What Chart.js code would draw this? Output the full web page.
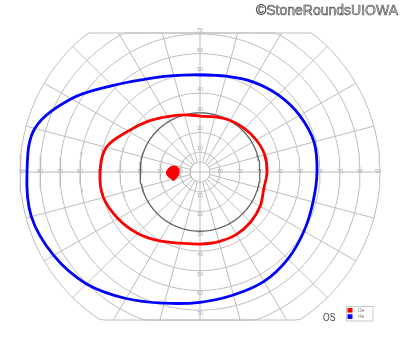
<!DOCTYPE html>
<html>
<head>
<meta charset="utf-8">
<script src="https://cdn.jsdelivr.net/npm/chart.js@4.4.1/dist/chart.umd.min.js"></script>
<style>
  html, body { margin: 0; padding: 0; background: #fff; }
  #wrap { position: relative; width: 400px; height: 352px; }
</style>
</head>
<body>
<div id="wrap"><canvas id="fieldChart"></canvas></div>
<script>
// Goldmann visual field, left eye. Angles in degrees, 0 = right, counter-clockwise
const meridians = [0, 15, 30, 45, 60, 75, 90, 105, 120, 135, 150, 165,
                   180, 195, 210, 225, 240, 255, 270, 285, 300, 315, 330, 345];

// isopter eccentricity (deg) on each meridian
const isopterI4e = [58.5, 59, 57.5, 55.3, 52.8, 50.3, 49.2, 50.6, 54.4, 62, 74.3, 85.5,
                    86.5, 87.3, 84.5, 80.2, 74, 68.8, 66, 64.5, 64, 62.2, 60, 58.5];
const isopterI2e = [33.5, 33.5, 32.5, 31.3, 30.2, 28.9, 28.4, 30, 32.5, 36.5, 41.5, 48.5,
                    50, 50, 47.3, 44, 40.3, 37.3, 36.5, 36.5, 36.5, 35.8, 34.7, 33];

// blind spot outline (deg)
const blindSpotX = [-16, -14.5, -12.5, -10.75, -10.5, -11, -12.25, -13.5, -14.5, -16.25, -16.75];
const blindSpotY = [1.5, 2.8, 3, 2, 0, -2, -3.5, -4.3, -3.3, -2, 0];

// grid
const ringValues = [5, 10, 20, 30, 40, 50, 60, 70, 80, 90];
const spokeAngles = [0, 15, 30, 45, 60, 75, 90, 105, 120, 135, 150, 165,
                     180, 195, 210, 225, 240, 255, 270, 285, 300, 315, 330, 345];
const horizontalLabels = [10, 20, 30, 40, 50, 60, 70, 80, 90];
const verticalLabels = [10, 20, 30, 40, 50, 60, 70];
const topEdge = 70.5;
const bottomEdge = -75;

function polarPoint(r, deg) {
    const a = deg * Math.PI / 180;
    return { x: r * Math.cos(a), y: r * Math.sin(a) };
}

// rings, flattened where the chart is cut off at top and bottom
const ringSets = ringValues.map(r => {
    const pts = [];
    for (let a = 0; a <= 360; a += 2) {
        const p = polarPoint(r, a);
        pts.push({ x: p.x, y: Math.max(bottomEdge, Math.min(topEdge, p.y)) });
    }
    const dark = r === 30;
    return {
        data: pts,
        borderColor: dark ? '#606060' : '#bdbdbd',
        borderWidth: dark ? 1.3 : 1,
        order: dark ? 9 : 10
    };
});

const spokeSets = spokeAngles.map(a => {
    const s = Math.sin(a * Math.PI / 180);
    let rEnd = ringValues[ringValues.length - 1];
    if (s > 1e-6) rEnd = Math.min(rEnd, topEdge / s);
    if (s < -1e-6) rEnd = Math.min(rEnd, bottomEdge / s);
    const rStart = a % 90 === 0 ? 0 : ringValues[0];
    return {
        data: [polarPoint(rStart, a), polarPoint(rEnd, a)],
        borderColor: '#bdbdbd',
        borderWidth: 1,
        order: 10
    };
});

// closed smooth loop: wrap one point at each end and hide those end segments
function isopterSet(label, values, color) {
    const pts = meridians.map((m, i) => polarPoint(values[i], m));
    const n = pts.length;
    const data = [pts[n - 1], ...pts, pts[0], pts[1]];
    const last = data.length - 1;
    return {
        label: label,
        data: data,
        borderColor: color,
        backgroundColor: color,
        borderWidth: 2.8,
        tension: 0.35,
        borderCapStyle: 'round',
        borderJoinStyle: 'round',
        order: 1,
        segment: {
            borderColor: ctx => (ctx.p0DataIndex === 0 || ctx.p1DataIndex === last) ? 'rgba(0,0,0,0)' : color
        }
    };
}

const blindSpotPts = blindSpotX.map((x, i) => ({ x: x, y: blindSpotY[i] }));
blindSpotPts.push(blindSpotPts[0]);

const isopters = [
    isopterSet('I2e', isopterI2e, '#ff0000'),
    isopterSet('I4e', isopterI4e, '#0000ff')
];

const datasets = [
    {
        label: 'blind spot',
        data: blindSpotPts,
        borderColor: '#ff0000',
        backgroundColor: '#ff0000',
        borderWidth: 1,
        tension: 0.4,
        fill: 'shape',
        order: 0
    },
    ...isopters,
    ...ringSets,
    ...spokeSets
];

const gridLabels = {
    id: 'gridLabels',
    beforeDatasetsDraw(chart) {
        const { ctx, scales: { x, y } } = chart;
        const cx = x.getPixelForValue(0);
        const cy = y.getPixelForValue(0);
        ctx.save();
        ctx.font = '5px "Liberation Sans"';
        ctx.fillStyle = '#999';
        ctx.textAlign = 'center';
        ctx.textBaseline = 'middle';
        horizontalLabels.forEach(v => {
            const inset = v === 90 ? 2 : 0;
            ctx.fillText(String(v), x.getPixelForValue(v) - inset, cy);
            ctx.fillText(String(v), x.getPixelForValue(-v) + inset, cy);
        });
        verticalLabels.forEach(v => {
            ctx.fillText(String(v), cx, y.getPixelForValue(v) - 3.5);
            ctx.fillText(String(v), cx, y.getPixelForValue(-v) + 3.5);
        });
        ctx.restore();
    }
};

const extras = {
    id: 'extras',
    afterDraw(chart) {
        const ctx = chart.ctx;
        ctx.save();

        // copyright, outlined lettering
        ctx.font = '14px "Liberation Sans"';
        ctx.textAlign = 'right';
        ctx.textBaseline = 'alphabetic';
        ctx.fillStyle = '#c4c4c4';
        ctx.strokeStyle = '#3a3a3a';
        ctx.lineWidth = 0.5;
        ctx.fillText('©StoneRoundsUIOWA', 398, 14.5);
        ctx.strokeText('©StoneRoundsUIOWA', 398, 14.5);

        // eye
        ctx.save();
        ctx.translate(323, 321);
        ctx.scale(0.78, 1);
        ctx.font = '11px "Liberation Sans"';
        ctx.textAlign = 'left';
        ctx.fillStyle = '#444';
        ctx.fillText('OS', 0, 0);
        ctx.restore();

        // legend
        ctx.fillStyle = '#fff';
        ctx.strokeStyle = '#c8c8c8';
        ctx.lineWidth = 1;
        ctx.fillRect(346, 306.5, 27, 14.5);
        ctx.strokeRect(346.5, 306.5, 26.5, 14.5);
        ctx.font = '4.5px "Liberation Sans"';
        ctx.textAlign = 'left';
        ctx.textBaseline = 'middle';
        isopters.forEach((ds, i) => {
            const yy = 308 + i * 6.3;
            ctx.fillStyle = ds.borderColor;
            ctx.fillRect(347.5, yy, 5, 4.6);
            ctx.fillStyle = '#777';
            ctx.fillText(ds.label, 358, yy + 2.4);
        });
        ctx.restore();
    }
};

new Chart(document.getElementById('fieldChart').getContext('2d'), {
    type: 'scatter',
    data: { datasets: datasets },
    options: {
        responsive: true,
        maintainAspectRatio: false,
        animation: false,
        layout: { padding: { left: 16, right: 16, top: 31, bottom: 30 } },
        datasets: {
            scatter: {
                showLine: true,
                pointRadius: 0,
                pointHoverRadius: 0,
                clip: false
            }
        },
        plugins: {
            legend: { display: false },
            tooltip: { enabled: false }
        },
        scales: {
            x: { type: 'linear', min: -92, max: 92, display: false },
            y: { type: 'linear', min: -76, max: 71.5, display: false }
        }
    },
    plugins: [gridLabels, extras]
});
</script>
</body>
</html>
